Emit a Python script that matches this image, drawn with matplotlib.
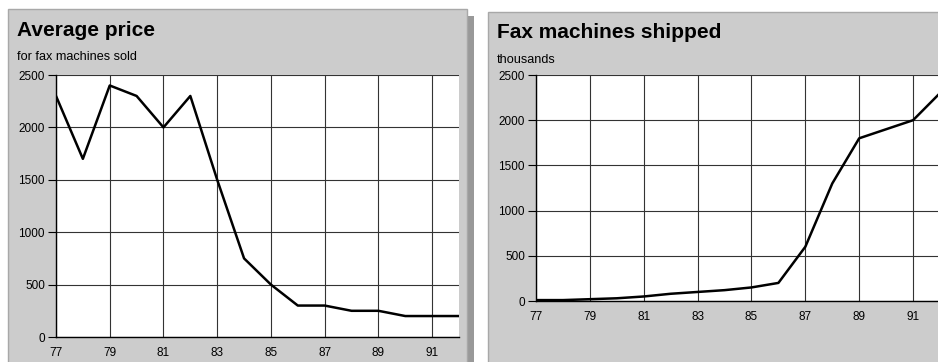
import matplotlib
matplotlib.use('Agg')
import matplotlib.pyplot as plt
from matplotlib.patches import Rectangle

plt.rcParams['font.family'] = ['Liberation Sans', 'DejaVu Sans']

years = [77, 78, 79, 80, 81, 82, 83, 84, 85, 86, 87, 88, 89, 90, 91, 92]
avg_price = [2300, 1700, 2400, 2300, 2000, 2300, 1500, 750, 500, 300, 300, 250, 250, 200, 200, 200]
shipped = [10, 10, 20, 30, 50, 80, 100, 120, 150, 200, 600, 1300, 1800, 1900, 2000, 2300]
x_ticks = [77, 79, 81, 83, 85, 87, 89, 91]
y_ticks = [0, 500, 1000, 1500, 2000, 2500]

W, H = 938, 362
fig = plt.figure(figsize=(W / 100, H / 100), dpi=100)
fig.patch.set_facecolor('white')


def box(x0, y0, x1, y1, **kw):
    # rectangle in pixel coords (y from top)
    r = Rectangle((x0 / W, 1 - y1 / H), (x1 - x0) / W, (y1 - y0) / H,
                  transform=fig.transFigure, zorder=-5, **kw)
    fig.patches.append(r)


def ax_at(x0, y0, x1, y1):
    return fig.add_axes([x0 / W, 1 - y1 / H, (x1 - x0) / W, (y1 - y0) / H])


# panels (shadow first)
box(467, 16, 474, 363, facecolor='#999999', edgecolor='none')
box(8, 9, 467, 363, facecolor='#cccccc', edgecolor='#a8a8a8', linewidth=1)
box(488, 12, 945, 363, facecolor='#cccccc', edgecolor='#a8a8a8', linewidth=1)

fig.text(17 / W, 1 - 31 / H, 'Average price', fontsize=15, fontweight='bold', va='center')
fig.text(17 / W, 1 - 57 / H, 'for fax machines sold', fontsize=9.1, va='center')
fig.text(497 / W, 1 - 33 / H, 'Fax machines shipped', fontsize=15, fontweight='bold', va='center')
fig.text(497 / W, 1 - 60 / H, 'thousands', fontsize=9.1, va='center')


def setup(ax, y):
    ax.set_facecolor('white')
    ax.plot(years, y, color='black', linewidth=1.8, zorder=3)
    ax.set_xlim(77, 92)
    ax.set_ylim(0, 2500)
    ax.set_xticks(x_ticks)
    ax.set_yticks(y_ticks)
    ax.grid(True, color='#333333', linewidth=0.8)
    ax.set_axisbelow(True)
    for s in ['top', 'right']:
        ax.spines[s].set_visible(False)
    for s in ['left', 'bottom']:
        ax.spines[s].set_color('black')
        ax.spines[s].set_linewidth(1)
    ax.tick_params(axis='y', length=6, width=0.8, pad=2, labelsize=8.5)
    ax.tick_params(axis='x', length=0, pad=7.5, labelsize=8.5)


ax1 = ax_at(56, 75, 459, 337)
setup(ax1, avg_price)

ax2 = ax_at(536, 75, 940, 301)
setup(ax2, shipped)

fig.savefig('out.png', dpi=100)
